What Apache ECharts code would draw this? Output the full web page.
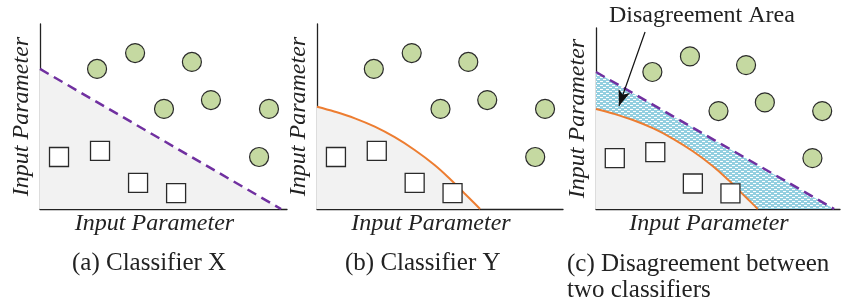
<!DOCTYPE html>
<html><head><meta charset="utf-8">
<script src="https://cdn.jsdelivr.net/npm/echarts@6/dist/echarts.min.js"></script>
<style>html,body{margin:0;padding:0;background:#fff}#c{width:843px;height:299px}</style>
</head><body><div id="c"></div>
<script>
// Data (axis units 0..100)
const circleX = [23.1, 38.5, 61.5, 50.2, 69.2, 92.7, 88.7];
const circleY = [75.7, 84.3, 79.5, 54.1, 58.9, 54.1, 28.1];
const squareX = [7.7, 24.3, 39.7, 55.1];
const squareY = [28.1, 31.4, 14.1, 8.6];
const lineX = [0, 97.6];
const lineY = [75.7, 0];
const curveX = [0, 7.3, 15.4, 23.5, 31.6, 39.7, 47.8, 54.5, 59.9, 64.0, 66.3];
const curveY = [55.3, 52.6, 49.0, 44.5, 38.8, 31.9, 23.8, 15.7, 8.5, 3.1, 0];
const arrowFrom = [20.1, 97.8];
const arrowTo = [9.4, 56.9];
const axisName = 'Input Parameter';
const captions = ['(a) Classifier X', '(b) Classifier Y', '(c) Disagreement between\ntwo classifiers'];
const annotation = 'Disagreement Area';

const zip = (xs, ys) => xs.map((x, i) => [x, ys[i]]);
const circles = zip(circleX, circleY);
const squares = zip(squareX, squareY);
const dashLine = zip(lineX, lineY);
const curve = zip(curveX, curveY);

// hatch pattern
const pc = document.createElement('canvas');
pc.width = 6; pc.height = 4;
const g = pc.getContext('2d');
g.fillStyle = '#93cfe0'; g.fillRect(0, 0, 6, 4);
g.fillStyle = '#ffffff'; g.fillRect(0, 1, 3, 1); g.fillRect(3, 3, 3, 1);

const grids = [
  {left: 40, top: 24, width: 247, height: 185},
  {left: 317, top: 24, width: 246, height: 185},
  {left: 596, top: 28, width: 244, height: 181}
];
const serif = '"Liberation Serif", "Times New Roman", serif';
const xAxes = grids.map((_, i) => ({
  gridIndex: i, type: 'value', min: 0, max: 100,
  axisLine: {show: true, lineStyle: {color: '#222', width: 1.3}},
  axisTick: {show: false}, axisLabel: {show: false}, splitLine: {show: false},
  name: axisName, nameLocation: 'middle', nameGap: 3,
  nameTextStyle: {fontFamily: serif, fontStyle: 'italic', fontSize: 24, color: '#222', padding: [0, 18, 0, 0]}
}));
const yAxes = grids.map((_, i) => ({
  gridIndex: i, type: 'value', min: 0, max: 100,
  axisLine: {show: true, lineStyle: {color: '#222', width: 1.3}},
  axisTick: {show: false}, axisLabel: {show: false}, splitLine: {show: false},
  name: axisName, nameLocation: 'middle', nameGap: 6,
  nameTextStyle: {fontFamily: serif, fontStyle: 'italic', fontSize: 24, color: '#222'}
}));

const series = [];
const dashStyle = {color: '#7030a0', width: 2.5, type: [10, 6]};
const orangeStyle = {color: '#ed7d31', width: 2};
// panel a
series.push({type: 'line', xAxisIndex: 0, yAxisIndex: 0, data: dashLine, symbol: 'none',
  lineStyle: dashStyle, areaStyle: {color: '#f2f2f2', opacity: 1}, z: 1});
// panel b
series.push({type: 'line', xAxisIndex: 1, yAxisIndex: 1, data: curve, symbol: 'none', smooth: 0.4,
  lineStyle: orangeStyle, areaStyle: {color: '#f2f2f2', opacity: 1}, z: 1});
// panel c
series.push({type: 'line', xAxisIndex: 2, yAxisIndex: 2, data: dashLine, symbol: 'none',
  lineStyle: {width: 0}, areaStyle: {color: {image: pc, repeat: 'repeat'}, opacity: 1}, z: 1});
series.push({type: 'line', xAxisIndex: 2, yAxisIndex: 2, data: curve, symbol: 'none', smooth: 0.4,
  lineStyle: orangeStyle, areaStyle: {color: '#f2f2f2', opacity: 1}, z: 2});
series.push({type: 'line', xAxisIndex: 2, yAxisIndex: 2, data: dashLine, symbol: 'none',
  lineStyle: dashStyle, z: 3,
  markLine: {silent: true, symbol: ['none', 'arrow'], symbolSize: [9, 16],
    lineStyle: {color: '#111', width: 1.2, type: 'solid'}, label: {show: false},
    data: [[{coord: arrowFrom}, {coord: arrowTo}]]}});
for (let i = 0; i < 3; i++) {
  series.push({type: 'scatter', xAxisIndex: i, yAxisIndex: i, data: circles, symbol: 'circle', symbolSize: 19,
    itemStyle: {color: '#c5d9a1', borderColor: '#2a2a2a', borderWidth: 1.2, opacity: 1}, z: 5});
  series.push({type: 'scatter', xAxisIndex: i, yAxisIndex: i, data: squares, symbol: 'rect', symbolSize: 19,
    itemStyle: {color: '#ffffff', borderColor: '#2a2a2a', borderWidth: 1.3, opacity: 1}, z: 5});
}

const chart = echarts.init(document.getElementById('c'), null, {renderer: 'canvas'});
chart.setOption({
  animation: false,
  grid: grids,
  xAxis: xAxes,
  yAxis: yAxes,
  series: series,
  graphic: [
    {type: 'text', left: 72, top: 251, style: {text: captions[0], font: '25px ' + serif, fill: '#222'}},
    {type: 'text', left: 345, top: 251, style: {text: captions[1], font: '25px ' + serif, fill: '#222'}},
    {type: 'text', left: 567, top: 251, style: {text: captions[2], font: '25px ' + serif, fill: '#222', lineHeight: 26}},
    {type: 'text', left: 609, top: 4, style: {text: annotation, font: '24px ' + serif, fill: '#222'}}
  ]
});
</script></body></html>
